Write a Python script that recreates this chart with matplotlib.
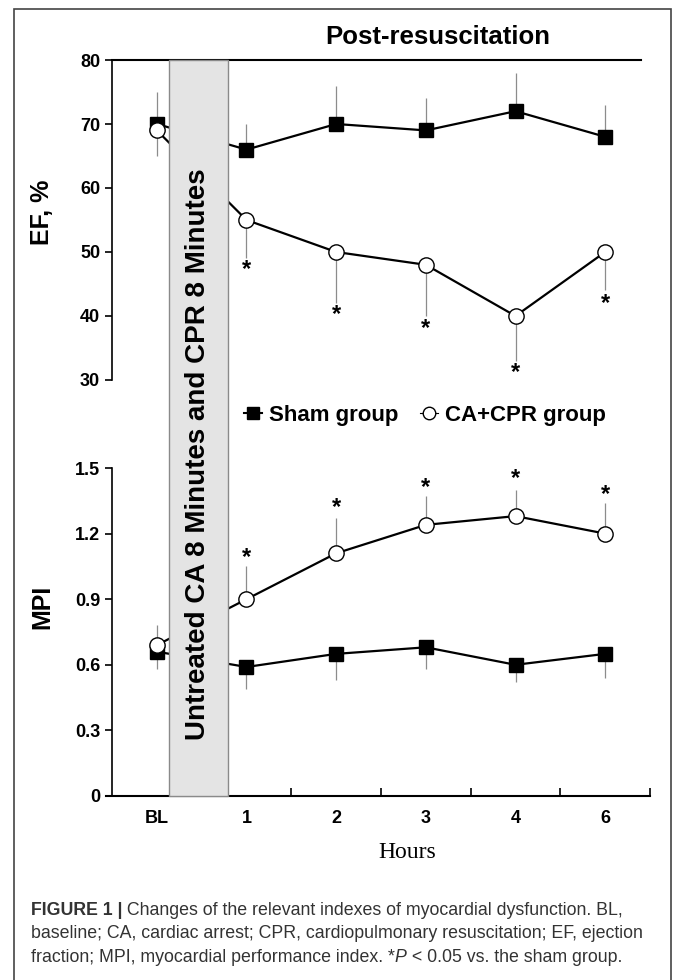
import matplotlib
matplotlib.use("Agg")
import matplotlib.pyplot as plt
from matplotlib.patches import Rectangle
from matplotlib.lines import Line2D
from matplotlib.text import Annotation
from matplotlib.transforms import blended_transform_factory
import numpy as np

plt.rcParams["font.family"] = ["Liberation Sans", "DejaVu Sans"]

# data
hours = ["BL", "1", "2", "3", "4", "6"]
ef_sham = [70, 66, 70, 69, 72, 68]
ef_sham_err = [5, 4, 6, 5, 6, 5]
ef_cpr = [69, 55, 50, 48, 40, 50]
ef_cpr_err = [4, 6, 8, 8, 7, 6]
ef_star = [47.3, 40.2, 38.1, 31.1, 41.9]

mpi_sham = [0.66, 0.59, 0.65, 0.68, 0.60, 0.65]
mpi_sham_err = [0.08, 0.10, 0.12, 0.10, 0.08, 0.11]
mpi_cpr = [0.69, 0.90, 1.11, 1.24, 1.28, 1.20]
mpi_cpr_err = [0.09, 0.15, 0.16, 0.13, 0.12, 0.14]
mpi_star = [1.09, 1.32, 1.41, 1.45, 1.38]

# intervention period between BL and hour 1 (in category units)
arrest_span = (0.135, 0.79)

W, H = 673, 980
def fx(px):
    return px / W
def fy(py):
    return 1 - py / H

fig = plt.figure(figsize=(W / 100, H / 100), dpi=100)
x = np.arange(len(hours))
zero = np.zeros(len(hours))

ax1 = fig.add_axes([fx(112), fy(380), (650 - 112) / W, (380 - 60) / H])
ax2 = fig.add_axes([fx(112), fy(796), (650 - 112) / W, (796 - 468) / H])

err_kw = dict(fmt="none", ecolor="#8c8c8c", elinewidth=0.9, capsize=0, zorder=1)
line_kw = dict(color="black", lw=1.6, zorder=3)
sq_kw = dict(marker="s", ms=10.5, mfc="black", mec="black")
ci_kw = dict(marker="o", ms=11, mfc="white", mec="black", mew=1.0)
star_kw = dict(ha="center", va="center", fontsize=17, fontweight="bold")

# EF panel
ax1.errorbar(x, ef_sham, yerr=[zero, ef_sham_err], **err_kw)
ax1.errorbar(x, ef_cpr, yerr=[ef_cpr_err, zero], **err_kw)
ax1.plot(x, ef_sham, **line_kw, **sq_kw)
ax1.plot(x, ef_cpr, **line_kw, **ci_kw)
for xi, s in zip(x[1:], ef_star):
    ax1.text(xi, s, "*", **star_kw)
ax1.set_xlim(-0.5, 5.5)
ax1.set_ylim(30, 80)
ax1.set_yticks([30, 40, 50, 60, 70, 80])
ax1.spines["right"].set_visible(False)
ax1.spines["bottom"].set_visible(False)
ax1.spines["top"].set_bounds(-0.5, 5.4)
ax1.spines["top"].set_linewidth(1.5)
ax1.spines["left"].set_linewidth(1.2)
ax1.set_xticks([])
ax1.tick_params(axis="y", direction="out", length=5, width=1.2, labelsize=13)

# MPI panel
ax2.errorbar(x, mpi_sham, yerr=[mpi_sham_err, zero], **err_kw)
ax2.errorbar(x, mpi_cpr, yerr=[zero, mpi_cpr_err], **err_kw)
ax2.plot(x, mpi_sham, **line_kw, **sq_kw)
ax2.plot(x, mpi_cpr, **line_kw, **ci_kw)
for xi, s in zip(x[1:], mpi_star):
    ax2.text(xi, s, "*", **star_kw)
ax2.set_xlim(-0.5, 5.5)
ax2.set_ylim(0, 1.5)
ax2.set_yticks([0, 0.3, 0.6, 0.9, 1.2, 1.5])
ax2.set_yticklabels(["0", "0.3", "0.6", "0.9", "1.2", "1.5"])
ax2.spines["right"].set_visible(False)
ax2.spines["top"].set_visible(False)
ax2.spines["left"].set_linewidth(1.2)
ax2.spines["bottom"].set_linewidth(1.5)
ax2.spines["bottom"].set_bounds(-0.57, 5.5)
ax2.set_xticks(x)
ax2.set_xticklabels(hours)
ax2.set_xticks([1.5, 2.5, 3.5, 4.5, 5.5], minor=True)
ax2.tick_params(axis="x", which="major", length=0, pad=10, labelsize=13)
ax2.tick_params(axis="x", which="minor", direction="in", length=6, width=1.2)
ax2.tick_params(axis="y", direction="out", length=5, width=1.2, labelsize=13)

for ax in (ax1, ax2):
    for lab in ax.get_xticklabels() + ax.get_yticklabels():
        lab.set_fontweight("bold")

# shaded intervention band spanning both panels
tr = blended_transform_factory(ax2.transData, fig.transFigure)
band = Rectangle((arrest_span[0], fy(796)), arrest_span[1] - arrest_span[0],
                 fy(60) - fy(796), transform=tr, facecolor="#e4e4e4",
                 edgecolor="#8a8a8a", lw=1.0, zorder=5)
fig.add_artist(band)
fig.text(0.5 * (arrest_span[0] + arrest_span[1]), fy(454),
         "Untreated CA 8 Minutes and CPR 8 Minutes", transform=tr,
         rotation=90, ha="center", va="center", fontsize=20,
         fontweight="bold", zorder=6)

fig.text(fx(438), fy(37), "Post-resuscitation", ha="center", va="center",
         fontsize=18.5, fontweight="bold")
fig.text(fx(42), fy(212), "EF, %", rotation=90, ha="center", va="center",
         fontsize=18, fontweight="bold")
fig.text(fx(42), fy(607), "MPI", rotation=90, ha="center", va="center",
         fontsize=18, fontweight="bold")
fig.text(fx(407), fy(852), "Hours", ha="center", va="center", fontsize=17,
         family="Liberation Serif")

handles = [Line2D([], [], color="black", lw=1.5, marker="s", ms=8),
           Line2D([], [], color="black", lw=0.8, marker="o", ms=9,
                  mfc="white", mec="black")]
fig.legend(handles, ["Sham group", "CA+CPR group"], loc="center",
           bbox_to_anchor=(fx(425), fy(415)), ncol=2, frameon=False,
           prop={"weight": "bold", "size": 16}, handlelength=0.8,
           handletextpad=0.3, columnspacing=1.0)

# caption
cap_color = "#333333"
cap_size = 12.8
t1 = fig.text(fx(31), fy(910), "FIGURE 1 |", fontsize=cap_size, fontweight="bold",
              color=cap_color, va="center")
fig.add_artist(Annotation(" Changes of the relevant indexes of myocardial dysfunction. BL,",
                          xy=(1, 0), xycoords=t1, va="bottom", fontsize=cap_size,
                          color=cap_color))
fig.text(fx(31), fy(933),
         "baseline; CA, cardiac arrest; CPR, cardiopulmonary resuscitation; EF, ejection",
         fontsize=cap_size, color=cap_color, va="center")
t3 = fig.text(fx(31), fy(957), "fraction; MPI, myocardial performance index. *",
              fontsize=cap_size, color=cap_color, va="center")
t4 = Annotation("P", xy=(1, 0), xycoords=t3, va="bottom", fontsize=cap_size,
                color=cap_color, style="italic")
fig.add_artist(t4)
fig.add_artist(Annotation(" < 0.05 vs. the sham group.", xy=(1, 0), xycoords=t4,
                          va="bottom", fontsize=cap_size, color=cap_color))

# outer frame (cut off at the bottom edge)
fig.add_artist(Rectangle((fx(14), fy(995)), (671 - 14) / W, (995 - 9) / H,
                         transform=fig.transFigure, fill=False,
                         edgecolor="#444444", lw=1.2))

fig.savefig("out.png", dpi=100)
